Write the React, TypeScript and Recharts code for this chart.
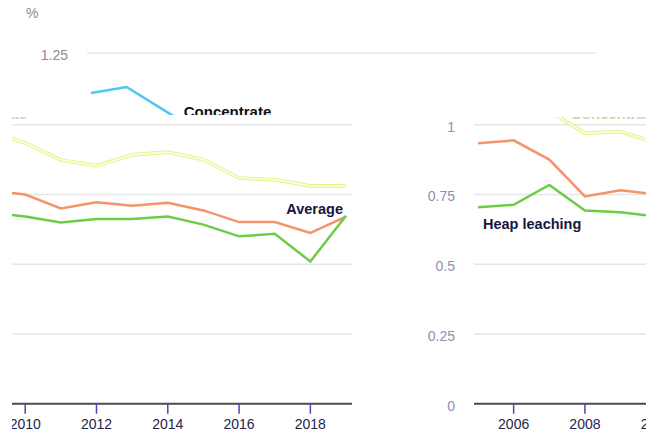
import React from 'react';
import { LineChart, Line, XAxis, YAxis, CartesianGrid, LabelList } from 'recharts';

// cost per year, %
const years = [2005, 2006, 2007, 2008, 2009, 2010, 2011, 2012, 2013, 2014, 2015, 2016, 2017, 2018, 2019];
const concentrate = [1.107, 1.128, 1.049, 0.970, 0.975, 0.935, 0.874, 0.853, 0.892, 0.902, 0.875, 0.809, 0.803, 0.781, 0.781];
const average = [0.934, 0.944, 0.875, 0.743, 0.765, 0.750, 0.700, 0.722, 0.710, 0.720, 0.693, 0.651, 0.651, 0.612, 0.671];
const heapLeaching = [0.704, 0.713, 0.784, 0.693, 0.686, 0.671, 0.650, 0.662, 0.662, 0.671, 0.642, 0.600, 0.609, 0.510, 0.674];

const yTicks = [0, 0.25, 0.5, 0.75, 1, 1.25];
const xTicks = [2006, 2008, 2010, 2012, 2014, 2016, 2018];

const data = years.map((year, i) => ({
    year,
    concentrate: concentrate[i],
    average: average[i],
    heap: heapLeaching[i],
}));

const FONT = '"Liberation Sans", Arial, sans-serif';

type Variant = 'top' | 'left' | 'right';

const PALETTE = {
    top: { tickY: '#8c8c8c', tickX: '#333333', tickLine: '#555555', label: '#111111', concLabel: '#111111' },
    lower: { tickY: '#8b8fb2', tickX: '#24244e', tickLine: '#4848b8', label: '#16163c', concLabel: '#cfd2a6' },
};

// only the year labels that can show inside each tile
const visibleYears = (variant: Variant) =>
    variant === 'right' ? xTicks.filter((y) => y <= 2010) : xTicks.filter((y) => y >= 2010);

// label drawn next to one point of a series
const pointLabel = (text: string, at: number, dx: number, dy: number, color: string, anchor = 'start', size = 14.5) =>
    (props: any) => {
        if (props.index !== at) return null;
        return (
            <text
                x={Number(props.x) + dx}
                y={Number(props.y) + dy}
                textAnchor={anchor}
                fill={color}
                fontSize={size}
                fontWeight={700}
                fontFamily={FONT}
            >
                {text}
            </text>
        );
    };

function CostChart({ variant }: { variant: Variant }) {
    const ghost = variant !== 'top';
    const c = ghost ? PALETTE.lower : PALETTE.top;

    const yTick = (props: any) => {
        const v = props.payload?.value;
        if (variant === 'left') return null;
        if (variant === 'top' && v !== 1.25) return null;
        if (variant === 'right' && v === 1.25) return null;
        return (
            <text
                x={props.x}
                y={props.y + 2}
                dy="0.355em"
                textAnchor="end"
                fill={c.tickY}
                fontSize={14}
                fontFamily={FONT}
            >
                {String(v)}
            </text>
        );
    };

    return (
        <LineChart width={646} height={460} data={data} margin={{ top: 53, right: 50, bottom: 28.25, left: 0 }}>
            <CartesianGrid vertical={false} stroke="#e6e6e6" strokeWidth={1.5} />
            <XAxis
                dataKey="year"
                type="number"
                domain={[2005, 2019]}
                ticks={ghost ? visibleYears(variant) : xTicks}
                interval={0}
                padding={{ left: 4, right: 6 }}
                tickSize={10}
                tickMargin={5}
                axisLine={{ stroke: '#4d4d4d', strokeWidth: 2 }}
                tickLine={{ stroke: c.tickLine, strokeWidth: 1.5 }}
                tick={ghost ? { fill: c.tickX, fontSize: 14, fontFamily: FONT } : false}
            />
            <YAxis
                width={87}
                domain={[0, 1.25]}
                ticks={yTicks}
                axisLine={false}
                tickLine={false}
                tickSize={6}
                tickMargin={13}
                tick={yTick}
                label={ghost ? undefined : (props: any) => {
                    const vb = props.viewBox || { x: 0, y: 53 };
                    return (
                        <text x={vb.x + 26} y={vb.y - 35} fill="#8c8c8c" fontSize={14} fontFamily={FONT}>
                            %
                        </text>
                    );
                }}
            />

            {ghost ? (
                <Line dataKey="concentrate" stroke="#e6f27c" strokeWidth={3.6} dot={false} activeDot={false} isAnimationActive={false} />
            ) : null}
            <Line
                dataKey="concentrate"
                stroke={ghost ? '#fbfde9' : '#4cc8f2'}
                strokeWidth={ghost ? 1.7 : 2.5}
                dot={false}
                activeDot={false}
                isAnimationActive={false}
            >
                <LabelList dataKey="concentrate" content={pointLabel('Concentrate', 2, 21.5, 8, c.concLabel, 'start', 15)} />
            </Line>
            <Line dataKey="average" stroke="#f4946a" strokeWidth={2.5} dot={false} activeDot={false} isAnimationActive={false}>
                {ghost ? <LabelList dataKey="average" content={pointLabel('Average', 14, -3, -3, c.label, 'end')} /> : null}
            </Line>
            <Line dataKey="heap" stroke="#6dcc46" strokeWidth={2.5} dot={false} activeDot={false} isAnimationActive={false}>
                {ghost ? <LabelList dataKey="heap" content={pointLabel('Heap leaching', 0, 5, 22, c.label)} /> : null}
            </Line>
        </LineChart>
    );
}

function Tile({ left, top, width, height, chartLeft, chartTop, variant }: {
    left: number; top: number; width: number; height: number;
    chartLeft: number; chartTop: number; variant: Variant;
}) {
    return (
        <div style={{ position: 'absolute', left, top, width, height, overflow: 'hidden' }}>
            <div style={{ position: 'absolute', left: chartLeft, top: chartTop }}>
                <CostChart variant={variant} />
            </div>
        </div>
    );
}

export default function App() {
    return (
        <div style={{ position: 'absolute', left: 0, top: 0, width: 646, height: 439, overflow: 'hidden', background: '#fff' }}>
            <Tile left={0} top={0} width={646} height={115} chartLeft={0} chartTop={0} variant="top" />
            <Tile left={12} top={117} width={348} height={322} chartLeft={-256} chartTop={-115} variant="left" />
            <Tile left={360} top={117} width={286} height={322} chartLeft={27} chartTop={-115} variant="right" />
        </div>
    );
}
